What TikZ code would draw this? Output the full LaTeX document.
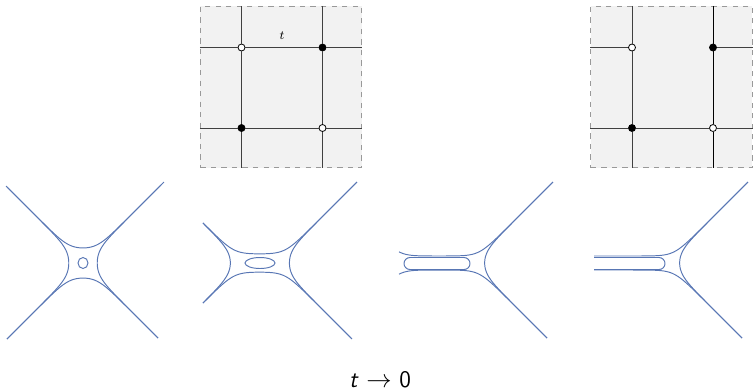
\documentclass[tikz,border=0pt]{standalone}
\usepackage{amsmath}
\usepackage{amssymb}
\usepackage{tikz}
\usetikzlibrary{calc}
\usetikzlibrary{positioning}
\usepackage[x11names, svgnames, rgb]{xcolor}
\definecolor{curveblue}{RGB}{88,118,180}

\begin{document}
\begin{tikzpicture}[
			x=0.02cm,
			y=-0.02cm,
			% smooth maximum of three terms, for the amoeba outlines
			declare function={
					lse(\u,\v,\w)=max(\u,\v,\w)+6*ln(exp((\u-max(\u,\v,\w))/6)+exp((\v-max(\u,\v,\w))/6)+exp((\w-max(\u,\v,\w))/6));
				},
			panel/.style={
					draw=black!40,
					dashed,
					fill=black!5,
					line width=0.5pt,
					inner sep=0pt,
					minimum size=3.23cm
				},
			grid line/.style={black!75, line width=0.55pt},
			wdot/.style={circle, draw=black, fill=white, inner sep=0pt, minimum size=0.14cm, line width=0.45pt},
			bdot/.style={wdot, fill=black},
			curve/.style={curveblue, line width=0.55pt}
		]
		\useasboundingbox (0,0) rectangle (754,390);

		% the two tropical pictures
		\node[panel] (box1) at (281,87) {};
		\node[panel] (box2) at (671.5,87) {};

		\node[wdot] (p11) at (241.5,47.5) {};
		\node[bdot] (p12) at (322.5,47.5) {};
		\node[bdot] (p21) at (241.5,128) {};
		\node[wdot] (p22) at (322.5,128) {};
		\node[inner sep=1pt, font=\fontsize{7.5}{9}\selectfont] (tlab) at (282,36) {$t$};

		\draw[grid line] (box1.north -| p11) -- (p11) -- (p21) -- (box1.south -| p21);
		\draw[grid line] (box1.north -| p12) -- (p12) -- (p22) -- (box1.south -| p22);
		\draw[grid line] (box1.west |- p11) -- (p11) -- (p12) -- (box1.east |- p12);
		\draw[grid line] (box1.west |- p21) -- (p21) -- (p22) -- (box1.east |- p22);

		\node[wdot] (q11) at (632,47.5) {};
		\node[bdot] (q12) at (713,47.5) {};
		\node[bdot] (q21) at (632,128) {};
		\node[wdot] (q22) at (713,128) {};

		\draw[grid line] (box2.north -| q11) -- (q11) -- (q21) -- (box2.south -| q21);
		\draw[grid line, black] (box2.north -| q12) -- (q12) -- (q22) -- (box2.south -| q22);
		\draw[grid line] (box2.west |- q11) -- (q11);
		\draw[grid line] (q12) -- (box2.east |- q12);
		\draw[grid line] (box2.west |- q21) -- (q21) -- (q22) -- (box2.east |- q22);

		% curves, t large
		\draw[curve] plot[domain=7:161, samples=120] ({\x},{263-lse(83-\x,\x-83,14)});
		\draw[curve] plot[domain=7:158, samples=120] ({\x},{263+lse(83-\x,\x-83,14)});
		\draw[curve] plot[domain=186:339, samples=120] ({83-lse(263-\x,\x-263,13)},{\x});
		\draw[curve] plot[domain=182:338, samples=120] ({83+lse(263-\x,\x-263,13)},{\x});
		\draw[curve] (83,263) circle[x radius=0.1cm, y radius=0.11cm];

		% curves, t smaller
		\draw[curve] plot[domain=203:357, samples=150] ({\x},{263-lse(243-\x,\x-276,9)});
		\draw[curve] plot[domain=203:352, samples=150] ({\x},{263+lse(243-\x,\x-276,9)});
		\draw[curve] plot[domain=223:303, samples=80] ({243-lse(263-\x,\x-263,11)},{\x});
		\draw[curve] plot[domain=182:338, samples=120] ({276+lse(263-\x,\x-263,12)},{\x});
		\draw[curve] (260,263) circle[x radius=0.3cm, y radius=0.11cm];

		\draw[curve] plot[domain=399:553, samples=150] ({\x},{263-lse(406-\x,\x-472,7)});
		\draw[curve] plot[domain=399:547, samples=150] ({\x},{263+lse(406-\x,\x-472,7)});
		\draw[curve] plot[domain=182:338, samples=120] ({472+lse(263-\x,\x-263,11)},{\x});
		\draw[curve, rounded corners=0.12cm] (404,257.5) rectangle (470,269.5);

		% curves, t -> 0
		\draw[curve] plot[domain=594:748, samples=150] ({\x},{263-lse(500-\x,\x-667,7)});
		\draw[curve] plot[domain=594:742, samples=150] ({\x},{263+lse(500-\x,\x-667,7)});
		\draw[curve] plot[domain=182:338, samples=120] ({667+lse(263-\x,\x-263,11)},{\x});
		\draw[curve, rounded corners=0.12cm] (594,257.5) -- (665,257.5) -- (665,269.5) -- (594,269.5);

		\node[anchor=base, inner sep=0pt, font=\sffamily\fontsize{13.5}{16}\selectfont] (lbl) at (380,387) {\textit{t} $\to$ 0};
	\end{tikzpicture}
\end{document}
